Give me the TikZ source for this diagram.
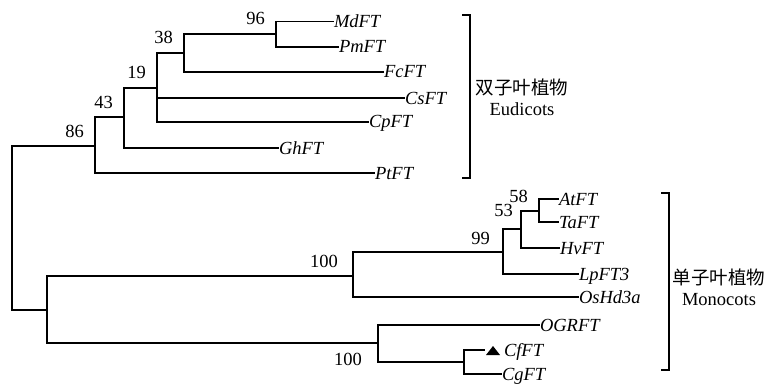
\documentclass[tikz,border=0pt]{standalone}
\usepackage{fontspec}
\setmainfont{Liberation Serif}
\newfontfamily\cjkfont{Noto Sans CJK SC}
\usetikzlibrary{positioning}

\begin{document}
\begin{tikzpicture}[
    x=1pt, y=-1pt,
    font=\fontsize{18.5}{21}\selectfont,
    branch/.style={line width=1.8pt},
    taxon/.style={anchor=west, inner sep=0pt, outer sep=0pt, xshift=7pt, text height=12pt, text depth=0pt, font=\fontsize{18.5}{21}\selectfont\itshape},
    boot/.style={anchor=base east, inner sep=0pt, xshift=-11pt, yshift=9pt},
    bootlow/.style={anchor=base east, inner sep=0pt, xshift=-16pt, yshift=-22pt},
    clade/.style={align=center, inner sep=0pt, font=\fontsize{18.5}{21}\selectfont}
]
    \useasboundingbox (0,0) rectangle (767,385);

    % leaves
    \node[taxon] (MdFT) at (327,21.5) {MdFT};
    \node[taxon] (PmFT) at (332,47) {PmFT};
    \node[taxon] (FcFT) at (377,72) {FcFT};
    \node[taxon] (CsFT) at (398,98) {CsFT};
    \node[taxon] (CpFT) at (362,122) {CpFT};
    \node[taxon] (GhFT) at (272,148) {GhFT};
    \node[taxon] (PtFT) at (368,173) {PtFT};
    \node[taxon] (AtFT) at (552,199) {AtFT};
    \node[taxon] (TaFT) at (552,222) {TaFT};
    \node[taxon] (HvFT) at (553,248) {HvFT};
    \node[taxon] (LpFT) at (572,274) {LpFT3};
    \node[taxon] (OsHd) at (572,297) {OsHd3a};
    \node[taxon] (OGRFT) at (533,325) {OGRFT};
    \coordinate (CfTip) at (485,350);
    \node[taxon] (CfFT) at (497,350) {CfFT};
    \node[taxon] (CgFT) at (495,374) {CgFT};

    % internal nodes
    \coordinate (n96) at (276,34);
    \coordinate (n38) at (184,53);
    \coordinate (n19) at (157,88);
    \coordinate (n43) at (124,117);
    \coordinate (n86) at (95,146);
    \coordinate (root) at (12,228);
    \coordinate (nMono) at (47,310);
    \coordinate (n100a) at (353,276);
    \coordinate (n99) at (503,252);
    \coordinate (n53) at (521,229);
    \coordinate (n58) at (539,211);
    \coordinate (n100b) at (378,343);
    \coordinate (nCf) at (464,362);

    % branches
    \draw[branch] (n96) |- (MdFT.west);
    \draw[branch] (n96) |- (PmFT.west);
    \draw[branch] (n38) |- (n96);
    \draw[branch] (n38) |- (FcFT.west);
    \draw[branch] (n19) |- (n38);
    \draw[branch] (n19) |- (CsFT.west);
    \draw[branch] (n19) |- (CpFT.west);
    \draw[branch] (n43) |- (n19);
    \draw[branch] (n43) |- (GhFT.west);
    \draw[branch] (n86) |- (n43);
    \draw[branch] (n86) |- (PtFT.west);
    \draw[branch] (root) |- (n86);
    \draw[branch] (root) |- (nMono);
    \draw[branch] (nMono) |- (n100a);
    \draw[branch] (nMono) |- (n100b);
    \draw[branch] (n100a) |- (n99);
    \draw[branch] (n100a) |- (OsHd.west);
    \draw[branch] (n99) |- (n53);
    \draw[branch] (n99) |- (LpFT.west);
    \draw[branch] (n53) |- (n58);
    \draw[branch] (n53) |- (HvFT.west);
    \draw[branch] (n58) |- (AtFT.west);
    \draw[branch] (n58) |- (TaFT.west);
    \draw[branch] (n100b) |- (OGRFT.west);
    \draw[branch] (n100b) |- (nCf);
    \draw[branch] (nCf) |- (CfTip);
    \draw[branch] (nCf) |- (CgFT.west);
    \fill ([shift={(1,5)}]CfTip) -- ++(14,0) -- ++(-7,-9) -- cycle;

    % bootstrap values
    \node[boot] (b96) at (n96) {96};
    \node[boot] (b38) at (n38) {38};
    \node[boot] (b19) at (n19) {19};
    \node[boot] (b43) at (n43) {43};
    \node[boot] (b86) at (n86) {86};
    \node[boot, xshift=-4pt] (b100a) at (n100a) {100};
    \node[boot, xshift=3pt, yshift=4pt] (b53) at (n53) {53};
    \node[boot, xshift=-2pt, yshift=-1pt] (b99) at (n99) {99};
    \node[boot] (b58) at (n58) {58};
    \node[bootlow] (b100b) at (n100b) {100};

    % clade brackets
    \coordinate (euTop) at (470,15);
    \coordinate (euBot) at (470,178);
    \draw[branch] ([xshift=-8pt]euTop) -- (euTop) -- (euBot) -- ([xshift=-8pt]euBot);
    \node[clade] (eudi) at (522,97) {{\cjkfont 双子叶植物}\\Eudicots};
    \coordinate (moTop) at (669,193);
    \coordinate (moBot) at (669,370);
    \draw[branch] ([xshift=-8pt]moTop) -- (moTop) -- (moBot) -- ([xshift=-8pt]moBot);
    \node[clade] (mono) at (719,287) {{\cjkfont 单子叶植物}\\Monocots};
\end{tikzpicture}
\end{document}
